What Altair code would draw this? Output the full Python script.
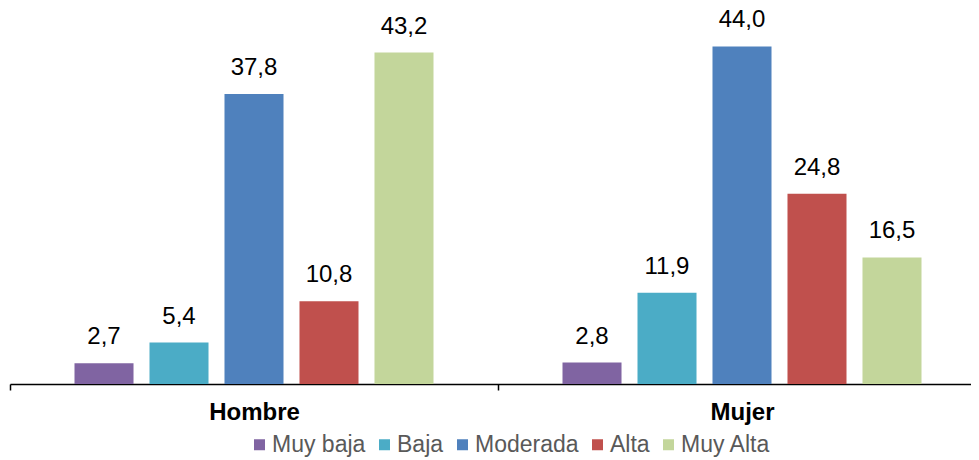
import altair as alt
import pandas as pd

grupos = ["Hombre", "Mujer"]
categorias = ["Muy baja", "Baja", "Moderada", "Alta", "Muy Alta"]
hombre = [2.7, 5.4, 37.8, 10.8, 43.2]
mujer = [2.8, 11.9, 44.0, 24.8, 16.5]
colores = ["#8064A2", "#4BACC6", "#4F81BD", "#C0504D", "#C3D69B"]

rows = []
for g, vals in zip(grupos, [hombre, mujer]):
    for c, v in zip(categorias, vals):
        rows.append({"grupo": g, "cat": c, "valor": v,
                     "etiqueta": f"{v:.1f}".replace(".", ",")})
df = pd.DataFrame(rows)

FONT = "Liberation Sans"

base = alt.Chart(df).encode(
    x=alt.X("grupo:N", sort=grupos,
            scale=alt.Scale(paddingInner=0, paddingOuter=0, range=[0, 976]),
            axis=alt.Axis(title=None, labelAngle=0, labelFontWeight="bold",
                          labelFontSize=24, labelColor="black", labelFont=FONT,
                          domainColor="black", domainWidth=1.5,
                          tickColor="black", tickWidth=1.5, tickSize=6,
                          tickBand="extent", labelPadding=10)),
    xOffset=alt.XOffset("cat:N", sort=categorias,
                        scale=alt.Scale(paddingInner=0.213, paddingOuter=0.86)),
    y=alt.Y("valor:Q", scale=alt.Scale(domain=[0, 48.35]), axis=None),
)

bars = base.mark_bar().encode(
    color=alt.Color("cat:N", sort=categorias,
                    scale=alt.Scale(domain=categorias, range=colores),
                    legend=alt.Legend(title=None, orient="none", direction="horizontal",
                                      columns=5, legendX=238, legendY=420,
                                      symbolType="square", symbolSize=121,
                                      symbolStrokeWidth=0, labelFontSize=23,
                                      labelColor="#595959", labelFont=FONT,
                                      labelOffset=1, columnPadding=7))
)

labels = base.mark_text(baseline="bottom", dy=-14, fontSize=24, font=FONT,
                        color="black").encode(text="etiqueta:N")

chart = (bars + labels).properties(
    width=961, height=371,
    autosize=alt.AutoSizeParams(type="none"),
    padding={"left": 2, "top": 5, "right": 0, "bottom": 80},
).configure_view(stroke=None)

chart.save("out.html", embed_options={"renderer": "svg", "actions": False})
